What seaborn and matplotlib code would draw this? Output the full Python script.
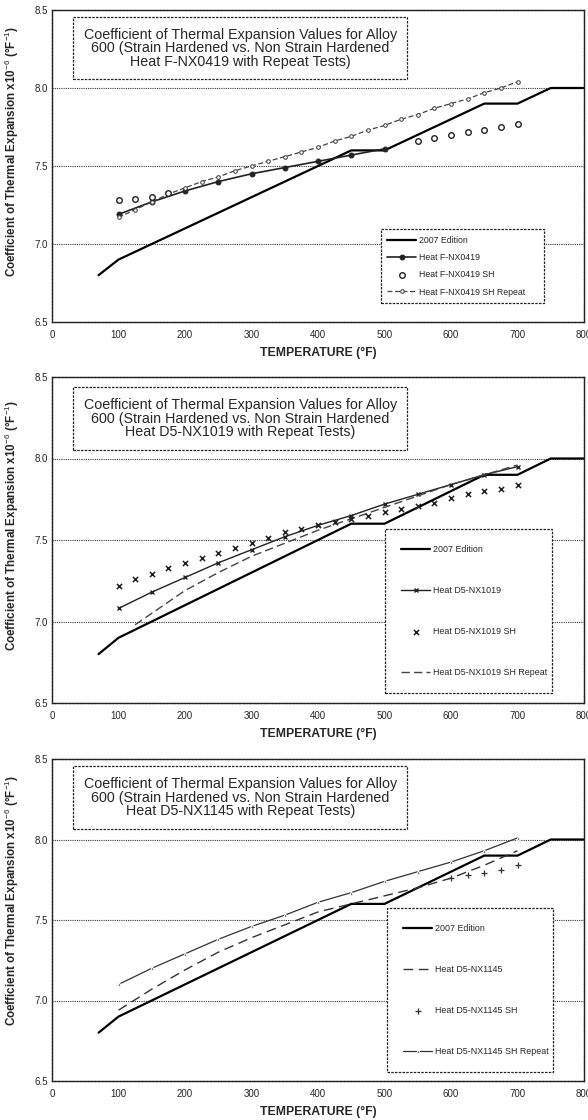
import matplotlib
matplotlib.use("Agg")
import matplotlib.pyplot as plt
import pandas as pd
import seaborn as sns

sns.set_theme(style="white")
plt.rcParams['font.family'] = ['Liberation Sans', 'DejaVu Sans']
plt.rcParams['mathtext.fontset'] = 'custom'
plt.rcParams['mathtext.rm'] = 'Liberation Sans'
plt.rcParams['mathtext.bf'] = 'Liberation Sans:bold'

# ---- 2007 Edition reference curve (same in every panel) ----
ed2007_temp = [70, 100, 450, 500, 650, 700, 750, 800]
ed2007_cte = [6.80, 6.90, 7.60, 7.60, 7.90, 7.90, 8.00, 8.00]

# ---- Heat F-NX0419 ----
f0419_temp = [100, 150, 200, 250, 300, 350, 400, 450, 500]
f0419_cte = [7.19, 7.27, 7.34, 7.40, 7.45, 7.49, 7.53, 7.57, 7.61]
f0419_sh_temp = [100, 125, 150, 175, 550, 575, 600, 625, 650, 675, 700]
f0419_sh_cte = [7.28, 7.29, 7.30, 7.33, 7.66, 7.68, 7.70, 7.72, 7.73, 7.75, 7.77]
f0419_rep_temp = [100, 125, 150, 175, 200, 225, 250, 275, 300, 325, 350, 375, 400,
                  425, 450, 475, 500, 525, 550, 575, 600, 625, 650, 675, 700]
f0419_rep_cte = [7.17, 7.22, 7.27, 7.32, 7.36, 7.40, 7.43, 7.47, 7.50, 7.53, 7.56, 7.59, 7.62,
                 7.66, 7.69, 7.73, 7.76, 7.80, 7.83, 7.87, 7.90, 7.93, 7.97, 8.00, 8.04]

# ---- Heat D5-NX1019 ----
d1019_temp = [100, 150, 200, 250, 300, 350, 400, 450, 500, 550, 600, 650, 700]
d1019_cte = [7.08, 7.18, 7.27, 7.36, 7.44, 7.52, 7.59, 7.65, 7.72, 7.78, 7.84, 7.90, 7.95]
d1019_sh_temp = [100, 125, 150, 175, 200, 225, 250, 275, 300, 325, 350, 375, 400,
                 425, 450, 475, 500, 525, 550, 575, 600, 625, 650, 675, 700]
d1019_sh_cte = [7.22, 7.26, 7.29, 7.33, 7.36, 7.39, 7.42, 7.45, 7.48, 7.51, 7.55, 7.57, 7.59,
                7.61, 7.63, 7.65, 7.67, 7.69, 7.71, 7.73, 7.76, 7.78, 7.80, 7.81, 7.84]
d1019_rep_temp = [125, 150, 200, 250, 300, 350, 400, 450, 500, 550, 600, 650, 700]
d1019_rep_cte = [6.98, 7.05, 7.19, 7.30, 7.40, 7.48, 7.56, 7.63, 7.70, 7.77, 7.84, 7.90, 7.96]

# ---- Heat D5-NX1145 ----
d1145_temp = [100, 150, 200, 250, 300, 350, 400, 450, 500, 550, 600, 650, 700]
d1145_cte = [6.94, 7.07, 7.19, 7.30, 7.39, 7.47, 7.55, 7.60, 7.65, 7.70, 7.76, 7.84, 7.93]
d1145_sh_temp = [600, 625, 650, 675, 700]
d1145_sh_cte = [7.76, 7.78, 7.79, 7.81, 7.84]
d1145_rep_temp = [100, 150, 200, 250, 300, 350, 400, 450, 500, 550, 600, 650, 700]
d1145_rep_cte = [7.10, 7.20, 7.29, 7.38, 7.46, 7.53, 7.61, 7.67, 7.74, 7.80, 7.86, 7.93, 8.01]

x_ticks = [0, 100, 200, 300, 400, 500, 600, 700, 800]
y_ticks = [6.5, 7.0, 7.5, 8.0, 8.5]

titles = [
    "Coefficient of Thermal Expansion Values for Alloy\n600 (Strain Hardened vs. Non Strain Hardened\nHeat F-NX0419 with Repeat Tests)",
    "Coefficient of Thermal Expansion Values for Alloy\n600 (Strain Hardened vs. Non Strain Hardened\nHeat D5-NX1019 with Repeat Tests)",
    "Coefficient of Thermal Expansion Values for Alloy\n600 (Strain Hardened vs. Non Strain Hardened\nHeat D5-NX1145 with Repeat Tests)",
]

W, H = 588, 1120
fig = plt.figure(figsize=(W / 100, H / 100), dpi=100)
fig.patch.set_facecolor('white')

# axes boxes in pixels: (left, top, right, bottom)
boxes_px = [(52, 10, 584, 322), (52, 377, 584, 703), (52, 759, 584, 1081)]
axes = [fig.add_axes([l / W, 1 - b / H, (r - l) / W, (b - t) / H]) for l, t, r, b in boxes_px]


def plot_line(ax, temps, vals, label, **kw):
    df = pd.DataFrame({"T": temps, "CTE": vals})
    sns.lineplot(data=df, x="T", y="CTE", ax=ax, label=label, estimator=None,
                 sort=False, **kw)


def plot_points(ax, temps, vals, label, **kw):
    df = pd.DataFrame({"T": temps, "CTE": vals})
    sns.scatterplot(data=df, x="T", y="CTE", ax=ax, label=label, **kw)


def style_axes(ax, title, title_y, ylab_y):
    ax.set_xlim(0, 800)
    ax.set_ylim(6.5, 8.5)
    ax.set_xticks(x_ticks)
    ax.set_yticks(y_ticks)
    ax.set_xticklabels([str(t) for t in x_ticks], fontsize=7)
    ax.set_yticklabels([f"{v:.1f}" for v in y_ticks], fontsize=7)
    ax.tick_params(axis='x', length=0, pad=5.5)
    ax.tick_params(axis='y', length=0, pad=3)
    for yv in (7.0, 7.5, 8.0):
        ax.axhline(yv, color='#333333', lw=0.8, ls=(0, (1, 1)), zorder=0)
    for s in ax.spines.values():
        s.set_color('#222222')
        s.set_linewidth(1.0)
        s.set_linestyle((0, (2, 0.6)))
    ax.set_xlabel("TEMPERATURE (°F)", fontsize=8.8, fontweight='bold', labelpad=5)
    ax.set_ylabel(r"Coefficient of Thermal Expansion x10$^{-6}$ (°F$^{-1}$)",
                  fontsize=8.4, fontweight='bold')
    ax.yaxis.set_label_coords(-0.058, ylab_y)
    ax.text(283, title_y, title, ha='center', va='center', fontsize=10.3,
            linespacing=0.95, zorder=6,
            bbox=dict(boxstyle='square,pad=0.75', fc='white', ec='#222222',
                      lw=0.9, ls=(0, (2, 1))))


ed_kw = dict(color='black', lw=1.6)
leg_kw = dict(frameon=True, fancybox=False, handlelength=3.3,
              handletextpad=0.3, borderaxespad=0, mode='expand', loc='upper left')

# Panel 1: Heat F-NX0419
ax = axes[0]
plot_line(ax, ed2007_temp, ed2007_cte, "2007 Edition", **ed_kw)
plot_line(ax, f0419_temp, f0419_cte, "Heat F-NX0419", color='#222222', lw=1.2,
          marker='o', markersize=3.5, markerfacecolor='#222222', markeredgecolor='#222222')
plot_points(ax, f0419_sh_temp, f0419_sh_cte, "Heat F-NX0419 SH", marker='o', s=16,
            facecolor='white', edgecolor='#222222', linewidth=1.0, zorder=4)
plot_line(ax, f0419_rep_temp, f0419_rep_cte, "Heat F-NX0419 SH Repeat", color='#444444',
          lw=0.9, ls=(0, (4, 2)), marker='o', markersize=2.6, markerfacecolor='white',
          markeredgecolor='#444444')
style_axes(ax, titles[0], 8.256, 0.548)
leg1 = ax.legend(bbox_to_anchor=(0.618, 0.298, 0.306, 0.0), fontsize=6.3,
                 labelspacing=0.95, borderpad=0.75, **leg_kw)

# Panel 2: Heat D5-NX1019
ax = axes[1]
plot_line(ax, ed2007_temp, ed2007_cte, "2007 Edition", **ed_kw)
plot_line(ax, d1019_temp, d1019_cte, "Heat D5-NX1019", color='#222222', lw=1.0,
          marker='x', markersize=3.5, markeredgewidth=1.0, markeredgecolor='#222222')
plot_points(ax, d1019_sh_temp, d1019_sh_cte, "Heat D5-NX1019 SH", marker='x', s=14,
            color='#222222', linewidth=1.1, zorder=4)
plot_line(ax, d1019_rep_temp, d1019_rep_cte, "Heat D5-NX1019 SH Repeat", color='#444444',
          lw=1.0, ls=(0, (6, 3)))
style_axes(ax, titles[1], 8.245, 0.546)
leg2 = ax.legend(bbox_to_anchor=(0.626, 0.534, 0.314, 0.0), fontsize=6.4,
                 labelspacing=3.6, borderpad=1.8, **leg_kw)

# Panel 3: Heat D5-NX1145
ax = axes[2]
plot_line(ax, ed2007_temp, ed2007_cte, "2007 Edition", **ed_kw)
plot_line(ax, d1145_temp, d1145_cte, "Heat D5-NX1145", color='#333333', lw=1.0,
          ls=(0, (7, 4)))
plot_points(ax, d1145_sh_temp, d1145_sh_cte, "Heat D5-NX1145 SH", marker='+', s=14,
            color='#333333', linewidth=0.9, zorder=4)
plot_line(ax, d1145_rep_temp, d1145_rep_cte, "Heat D5-NX1145 SH Repeat", color='#333333',
          lw=0.9, marker='^', markersize=2.5)
style_axes(ax, titles[2], 8.26, 0.562)
leg3 = ax.legend(bbox_to_anchor=(0.630, 0.537, 0.312, 0.0), fontsize=6.4,
                 labelspacing=3.6, borderpad=1.8, **leg_kw)

for lg in (leg1, leg2, leg3):
    fr = lg.get_frame()
    fr.set_edgecolor('#222222')
    fr.set_linewidth(0.9)
    fr.set_linestyle((0, (2, 1)))
    fr.set_facecolor('white')
    fr.set_alpha(1.0)
    lg.set_zorder(7)

fig.savefig("out.png", dpi=100, facecolor='white')
